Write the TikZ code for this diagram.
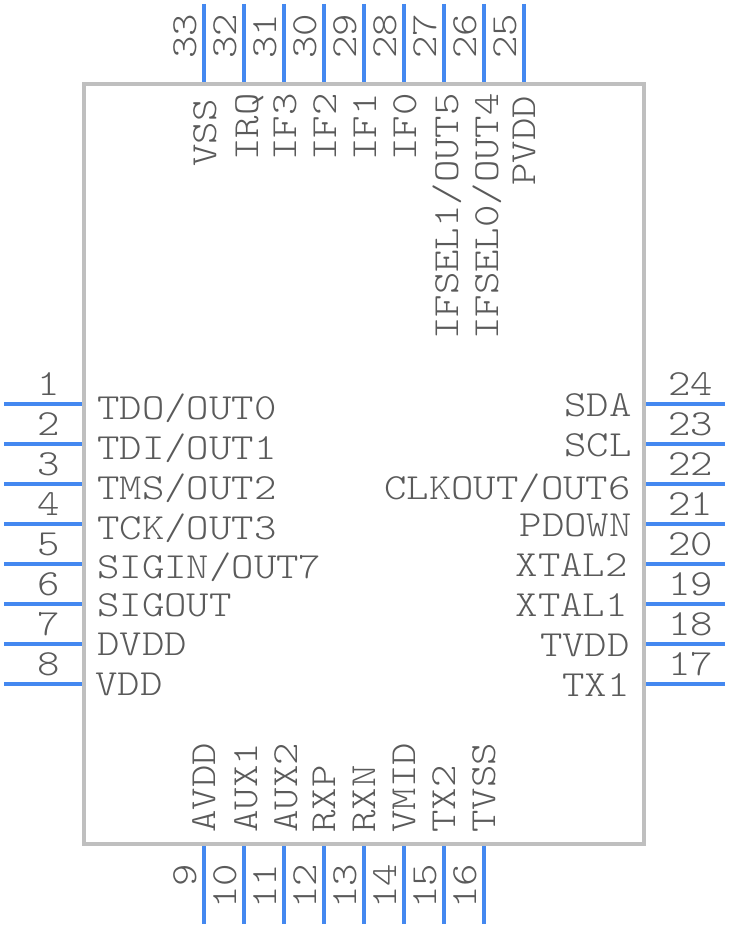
\documentclass[tikz,border=0pt]{standalone}
\usepackage{xcolor}
\usepackage{fontspec}
\newfontfamily\pinfont[FakeStretch=1.16]{Latin Modern Mono Light}
\definecolor{pinblue}{HTML}{4488F0}
\definecolor{bodygray}{HTML}{BFBFBF}
\definecolor{textgray}{HTML}{5A5A5A}
\tikzset{
  pinline/.style={draw=pinblue,line width=4pt},
  bodybox/.style={draw=bodygray,line width=4pt,inner sep=0pt,minimum width=560pt,minimum height=760pt},
  pintext/.style={inner sep=0pt,text=textgray,font=\fontsize{36.8}{36.8}\pinfont},
  lefttext/.style={pintext,anchor=base west},
  righttext/.style={pintext,anchor=base east},
  uptext/.style={pintext,anchor=base west,rotate=90}
}

\begin{document}
\begin{tikzpicture}[x=1pt,y=-1pt]
\useasboundingbox (0,0) rectangle (728,928);
\node[bodybox] (chip) at (364,464) {};
% left side
\coordinate (a1) at (4,404);
\coordinate (b1) at (82,404);
\coordinate (a2) at (4,444);
\coordinate (b2) at (82,444);
\coordinate (a3) at (4,484);
\coordinate (b3) at (82,484);
\coordinate (a4) at (4,524);
\coordinate (b4) at (82,524);
\coordinate (a5) at (4,564);
\coordinate (b5) at (82,564);
\coordinate (a6) at (4,604);
\coordinate (b6) at (82,604);
\coordinate (a7) at (4,644);
\coordinate (b7) at (82,644);
\coordinate (a8) at (4,684);
\coordinate (b8) at (82,684);
\path (a1) edge [pinline] (b1);
\path (a2) edge [pinline] (b2);
\path (a3) edge [pinline] (b3);
\path (a4) edge [pinline] (b4);
\path (a5) edge [pinline] (b5);
\path (a6) edge [pinline] (b6);
\path (a7) edge [pinline] (b7);
\path (a8) edge [pinline] (b8);
\node[righttext] (n1) at (60,395) {1};
\node[righttext] (n2) at (60,435) {2};
\node[righttext] (n3) at (60,475) {3};
\node[righttext] (n4) at (60,515) {4};
\node[righttext] (n5) at (60,555) {5};
\node[righttext] (n6) at (60,595) {6};
\node[righttext] (n7) at (60,635) {7};
\node[righttext] (n8) at (60,675) {8};
\node[lefttext] (l1) at (97,419) {TDO/OUT0};
\node[lefttext] (l2) at (97,459) {TDI/OUT1};
\node[lefttext] (l3) at (97,499) {TMS/OUT2};
\node[lefttext] (l4) at (97,539) {TCK/OUT3};
\node[lefttext] (l5) at (97,578) {SIGIN/OUT7};
\node[lefttext] (l6) at (97,616) {SIGOUT};
\node[lefttext] (l7) at (97,655) {DVDD};
\node[lefttext] (l8) at (95,695) {VDD};
% bottom side
\coordinate (a9) at (204,846);
\coordinate (b9) at (204,924);
\coordinate (a10) at (244,846);
\coordinate (b10) at (244,924);
\coordinate (a11) at (284,846);
\coordinate (b11) at (284,924);
\coordinate (a12) at (324,846);
\coordinate (b12) at (324,924);
\coordinate (a13) at (364,846);
\coordinate (b13) at (364,924);
\coordinate (a14) at (404,846);
\coordinate (b14) at (404,924);
\coordinate (a15) at (444,846);
\coordinate (b15) at (444,924);
\coordinate (a16) at (484,846);
\coordinate (b16) at (484,924);
\path (a9) edge [pinline] (b9);
\path (a10) edge [pinline] (b10);
\path (a11) edge [pinline] (b11);
\path (a12) edge [pinline] (b12);
\path (a13) edge [pinline] (b13);
\path (a14) edge [pinline] (b14);
\path (a15) edge [pinline] (b15);
\path (a16) edge [pinline] (b16);
\node[uptext] (n9) at (196,887) {9};
\node[uptext] (n10) at (236,909) {10};
\node[uptext] (n11) at (276,909) {11};
\node[uptext] (n12) at (316,909) {12};
\node[uptext] (n13) at (356,909) {13};
\node[uptext] (n14) at (396,909) {14};
\node[uptext] (n15) at (436,909) {15};
\node[uptext] (n16) at (476,909) {16};
\node[uptext] (l9) at (215,833) {AVDD};
\node[uptext] (l10) at (257,833) {AUX1};
\node[uptext] (l11) at (297,833) {AUX2};
\node[uptext] (l12) at (335,833) {RXP};
\node[uptext] (l13) at (375,833) {RXN};
\node[uptext] (l14) at (415,833) {VMID};
\node[uptext] (l15) at (455,833) {TX2};
\node[uptext] (l16) at (495,833) {TVSS};
% right side
\coordinate (a17) at (646,684);
\coordinate (b17) at (725,684);
\coordinate (a18) at (646,644);
\coordinate (b18) at (725,644);
\coordinate (a19) at (646,604);
\coordinate (b19) at (725,604);
\coordinate (a20) at (646,564);
\coordinate (b20) at (725,564);
\coordinate (a21) at (646,524);
\coordinate (b21) at (725,524);
\coordinate (a22) at (646,484);
\coordinate (b22) at (725,484);
\coordinate (a23) at (646,444);
\coordinate (b23) at (725,444);
\coordinate (a24) at (646,404);
\coordinate (b24) at (725,404);
\path (a17) edge [pinline] (b17);
\path (a18) edge [pinline] (b18);
\path (a19) edge [pinline] (b19);
\path (a20) edge [pinline] (b20);
\path (a21) edge [pinline] (b21);
\path (a22) edge [pinline] (b22);
\path (a23) edge [pinline] (b23);
\path (a24) edge [pinline] (b24);
\node[lefttext] (n17) at (668,675) {17};
\node[lefttext] (n18) at (668,635) {18};
\node[lefttext] (n19) at (668,595) {19};
\node[lefttext] (n20) at (668,555) {20};
\node[lefttext] (n21) at (668,515) {21};
\node[lefttext] (n22) at (668,475) {22};
\node[lefttext] (n23) at (668,435) {23};
\node[lefttext] (n24) at (668,395) {24};
\node[righttext] (l17) at (630,696) {TX1};
\node[righttext] (l18) at (630,656) {TVDD};
\node[righttext] (l19) at (628,616) {XTAL1};
\node[righttext] (l20) at (628,576) {XTAL2};
\node[righttext] (l21) at (632,536) {PDOWN};
\node[righttext] (l22) at (631,499) {CLKOUT/OUT6};
\node[righttext] (l23) at (632,456) {SCL};
\node[righttext] (l24) at (632,416) {SDA};
% top side
\coordinate (a25) at (524,4);
\coordinate (b25) at (524,82);
\coordinate (a26) at (484,4);
\coordinate (b26) at (484,82);
\coordinate (a27) at (444,4);
\coordinate (b27) at (444,82);
\coordinate (a28) at (404,4);
\coordinate (b28) at (404,82);
\coordinate (a29) at (364,4);
\coordinate (b29) at (364,82);
\coordinate (a30) at (324,4);
\coordinate (b30) at (324,82);
\coordinate (a31) at (284,4);
\coordinate (b31) at (284,82);
\coordinate (a32) at (244,4);
\coordinate (b32) at (244,82);
\coordinate (a33) at (204,4);
\coordinate (b33) at (204,82);
\path (a25) edge [pinline] (b25);
\path (a26) edge [pinline] (b26);
\path (a27) edge [pinline] (b27);
\path (a28) edge [pinline] (b28);
\path (a29) edge [pinline] (b29);
\path (a30) edge [pinline] (b30);
\path (a31) edge [pinline] (b31);
\path (a32) edge [pinline] (b32);
\path (a33) edge [pinline] (b33);
\node[uptext] (n25) at (516,59) {25};
\node[uptext] (n26) at (476,59) {26};
\node[uptext] (n27) at (436,59) {27};
\node[uptext] (n28) at (396,59) {28};
\node[uptext] (n29) at (356,59) {29};
\node[uptext] (n30) at (316,59) {30};
\node[uptext] (n31) at (276,59) {31};
\node[uptext] (n32) at (236,59) {32};
\node[uptext] (n33) at (196,59) {33};
\node[uptext] (l25) at (535,186) {PVDD};
\node[uptext] (l26) at (498,340) {IFSEL0/OUT4};
\node[uptext] (l27) at (458,340) {IFSEL1/OUT5};
\node[uptext] (l28) at (416,161) {IF0};
\node[uptext] (l29) at (376,161) {IF1};
\node[uptext] (l30) at (336,161) {IF2};
\node[uptext] (l31) at (296,161) {IF3};
\node[uptext] (l32) at (258,161) {IRQ};
\node[uptext] (l33) at (216,167) {VSS};
\end{tikzpicture}
\end{document}
